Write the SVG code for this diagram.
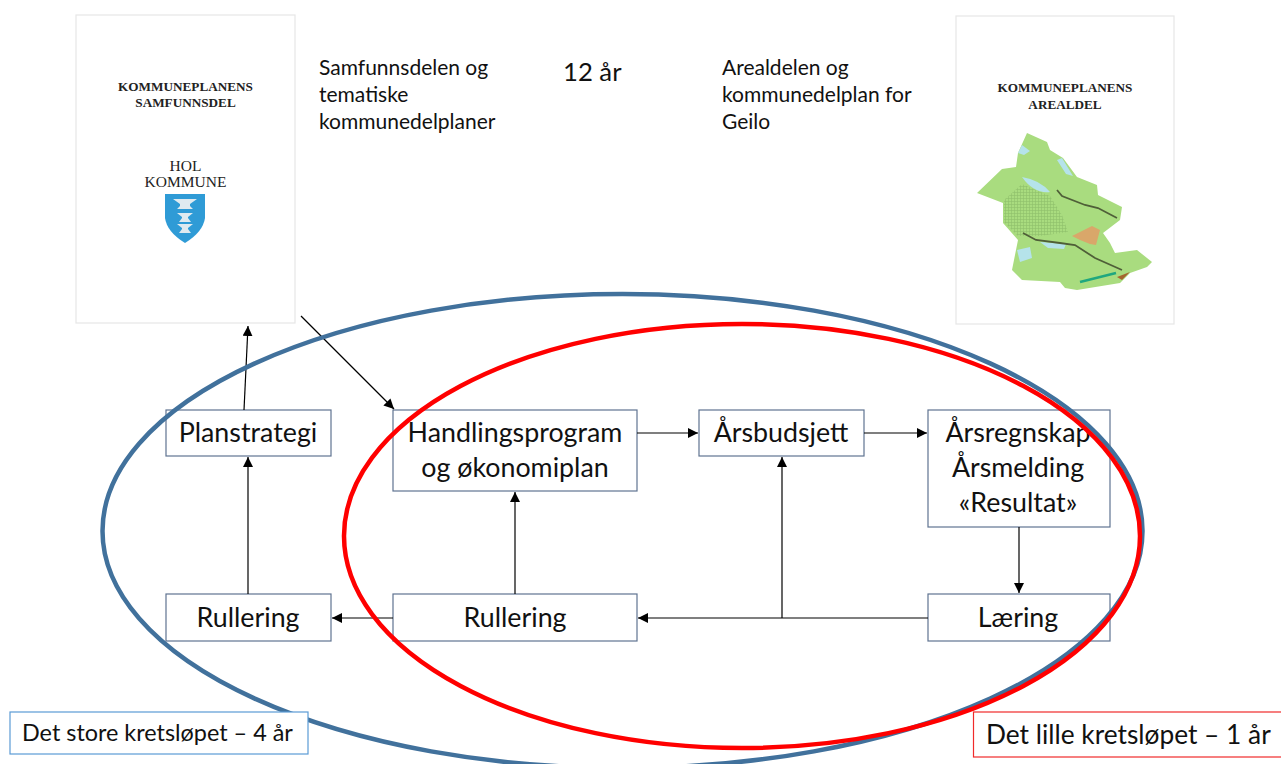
<svg xmlns="http://www.w3.org/2000/svg" width="1281" height="764" viewBox="0 0 1281 764">
<defs>
<marker id="ah" markerUnits="userSpaceOnUse" markerWidth="11" markerHeight="11" refX="10" refY="5" orient="auto"><path d="M0 0L10 5L0 10Z" fill="#000"/></marker>
<pattern id="grid" patternUnits="userSpaceOnUse" width="3" height="3"><rect width="3" height="3" fill="#a9dc7f"/><path d="M0 .5H3M.5 0V3" stroke="#8fc06c" stroke-width=".6"/></pattern>
</defs>
<style>
text{font-family:Lato,"Liberation Sans",sans-serif;fill:#111}
.box{fill:#fff;stroke:#5f7391;stroke-width:1.2}
.lbl{font-size:26.800px;text-anchor:middle}
.top{font-size:21px}
.cov{font-family:"Liberation Serif",serif;font-weight:bold;font-size:13.200px;text-anchor:middle;fill:#222}
.page{fill:#fff;stroke:#e6e6e6;stroke-width:1.2}
.c{stroke:#000;stroke-width:1.2;fill:none;marker-end:url(#ah)}
</style>
<rect width="1281" height="764" fill="#fff"/>
<g id="doc-samfunnsdel">
<rect class="page" x="76" y="15" width="219" height="308"/>
<text class="cov" x="185.500" y="91">KOMMUNEPLANENS</text>
<text class="cov" x="185.500" y="107">SAMFUNNSDEL</text>
<text x="185.500" y="171" text-anchor="middle" style="font-family:'Liberation Serif',serif;font-size:15.500px;fill:#222">HOL</text>
<text x="185.500" y="187" text-anchor="middle" style="font-family:'Liberation Serif',serif;font-size:15.500px;fill:#222">KOMMUNE</text>
<path d="M165 194H205V218Q203 232 185 243Q167 232 165 218Z" fill="#2f9bd6"/>
<path d="M173 199H197L190 204V206L193 209H177L180 206V204ZM177 213H193L188 217V218L191 222H179L182 218V217ZM177 224H193L188 228V229L191 233H179L182 229V228Z" fill="#dfeaf0"/>
</g>
<g id="doc-arealdel">
<rect class="page" x="956" y="16" width="218" height="308"/>
<text class="cov" x="1065" y="92">KOMMUNEPLANENS</text>
<text class="cov" x="1065" y="109">AREALDEL</text>
<path d="M977 193L1002 169L1016 167L1018 153L1027 133L1047 142L1050 150L1063 158L1077 177L1097 185L1098 195L1122 207L1120 220L1103 233L1110 243L1115 253L1137 250L1152 262L1147 267L1130 273L1120 283L1077 290L1065 288L1060 282L1022 280L1012 270L1018 240L1003 223L1003 203Z" fill="#a9dc7f"/>
<path d="M1004 200L1022 184L1050 196L1062 215L1068 232L1040 236L1018 236L1004 222Z" fill="url(#grid)"/>
<path d="M1018 153L1022 145L1030 151L1024 155ZM1057 160L1062 158L1073 176L1066 174ZM1022 177Q1040 180 1050 192Q1034 194 1022 177ZM1040 242L1066 244L1064 249L1048 248ZM1017 250L1030 247L1032 258L1020 262Z" fill="#b5e3ea"/>
<path d="M1057 190L1062 196L1085 205L1098 208L1117 218M1023 233L1036 240L1060 243L1075 245L1095 258L1122 270" stroke="#4f5f38" stroke-width="1.800" fill="none"/>
<path d="M1072 236L1092 226L1100 230L1096 245L1090 244L1080 240Z" fill="#d9a76a"/>
<path d="M1080 282Q1100 277 1116 273" stroke="#1fa77f" stroke-width="2.500" fill="none"/>
<path d="M1117 277L1130 272L1122 280Z" fill="#a5662e"/>
</g>
<g id="text-top">
<text class="top" x="319" y="75">Samfunnsdelen og</text>
<text class="top" x="319" y="102">tematiske</text>
<text class="top" x="319" y="129">kommunedelplaner</text>
<text x="563" y="81" style="font-size:25.700px">12 år</text>
<text class="top" x="722" y="75">Arealdelen og</text>
<text class="top" x="722" y="102">kommunedelplan for</text>
<text class="top" x="722" y="129">Geilo</text>
</g>
<g id="node-planstrategi"><rect class="box" x="166" y="410" width="165" height="46"/><text class="lbl" x="248" y="442">Planstrategi</text></g>
<g id="node-handlingsprogram"><rect class="box" x="393" y="410" width="244" height="81"/><text class="lbl" x="515" y="442">Handlingsprogram</text><text class="lbl" x="515" y="477">og økonomiplan</text></g>
<g id="node-arsbudsjett"><rect class="box" x="699" y="410" width="165" height="46"/><text class="lbl" x="781" y="442">Årsbudsjett</text></g>
<g id="node-arsregnskap"><rect class="box" x="928" y="410" width="182" height="117"/><text class="lbl" x="1018" y="442">Årsregnskap</text><text class="lbl" x="1018" y="477">Årsmelding</text><text class="lbl" x="1018" y="512">«Resultat»</text></g>
<g id="node-rullering-1"><rect class="box" x="166" y="594" width="165" height="47"/><text class="lbl" x="248" y="627">Rullering</text></g>
<g id="node-rullering-2"><rect class="box" x="393" y="594" width="244" height="47"/><text class="lbl" x="515" y="627">Rullering</text></g>
<g id="node-laering"><rect class="box" x="928" y="594" width="182" height="47"/><text class="lbl" x="1018" y="627">Læring</text></g>
<g id="connectors">
<path class="c" d="M244 410L248 326"/>
<path class="c" d="M301 316L394 409"/>
<path class="c" d="M248 594V457"/>
<path class="c" d="M637 433H698"/>
<path class="c" d="M864 433H927"/>
<path class="c" d="M1019 527V593"/>
<path class="c" d="M928 618H638"/>
<path class="c" d="M782 618V457"/>
<path class="c" d="M515 594V492"/>
<path class="c" d="M393 618H332"/>
</g>
<g id="cycles" fill="none">
<ellipse id="cycle-large" cx="622.500" cy="531" rx="520" ry="237" stroke="#41719c" stroke-width="4.500"/>
<ellipse id="cycle-small" cx="742" cy="536" rx="398" ry="212" stroke="#f00" stroke-width="4.500"/>
</g>
<g id="label-large"><rect x="10" y="712" width="298" height="42" fill="#fff" stroke="#5b9bd5" stroke-width="1.2"/><text x="22" y="741" style="font-size:23.400px">Det store kretsløpet – 4 år</text></g>
<g id="label-small"><rect x="973.500" y="712" width="310" height="45" fill="#fff" stroke="#f02a2a" stroke-width="1.2"/><text x="986" y="744" style="font-size:26.300px">Det lille kretsløpet – 1 år</text></g>
</svg>
